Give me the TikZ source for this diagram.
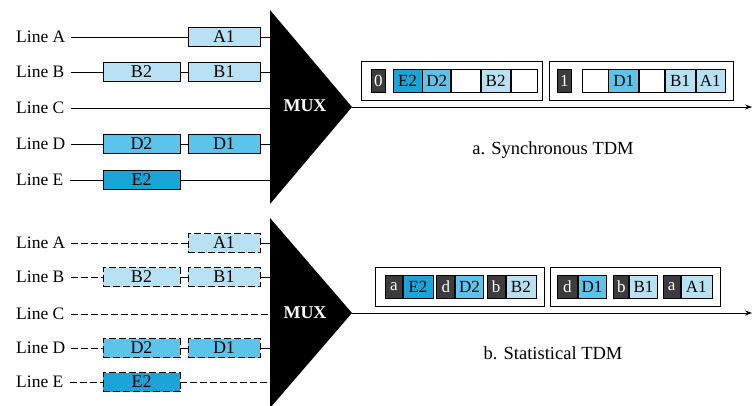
\documentclass[tikz,border=0pt]{standalone}
\usepackage{fontspec}
\setmainfont{Liberation Serif}
\usetikzlibrary{positioning,arrows.meta}
\definecolor{paleblue}{HTML}{B8E2F4}
\definecolor{midblue}{HTML}{5CC3EA}
\definecolor{deepblue}{HTML}{1BA4D8}
\definecolor{hdrgray}{HTML}{3C3C3C}
\tikzset{
  linelabel/.style={anchor=west, inner sep=0pt, font=\fontsize{17.5}{19}\selectfont},
  cell/.style={draw, line width=0.8pt, minimum height=19, minimum width=72,
    inner sep=0pt, font=\fontsize{18}{19}\selectfont},
  slot/.style={draw, line width=0.7pt, minimum height=23, inner sep=0pt,
    anchor=west, font=\fontsize{17}{18}\selectfont},
  hdr/.style={slot, fill=hdrgray, text=white},
  frame/.style={draw, line width=0.8pt},
  wire/.style={line width=0.7pt},
  dwire/.style={wire, dash pattern=on 7pt off 3pt},
  caption/.style={font=\fontsize{18.5}{20}\selectfont},
  muxtext/.style={text=white, font=\bfseries\fontsize{18}{19}\selectfont},
}

\begin{document}
\begin{tikzpicture}[x=1pt,y=-1pt]
  \useasboundingbox (0,0) rectangle (756,405);

  % ---- a. synchronous TDM ----
  \fill (270,10) -- (352,107) -- (270,204) -- cycle;
  \node[muxtext] (mux1) at (305,106) {MUX};
  \coordinate (ma) at (270,37);
  \coordinate (mb) at (270,72);
  \coordinate (mc) at (270,108);
  \coordinate (md) at (270,144);
  \coordinate (me) at (270,180);
  \coordinate (out1) at (352,107);
  \coordinate (end1) at (752,107);

  \node[linelabel] (la) at (16,37) {Line A};
  \node[linelabel] (lb) at (16,72) {Line B};
  \node[linelabel] (lc) at (16,108) {Line C};
  \node[linelabel] (ld) at (16,144) {Line D};
  \node[linelabel] (le) at (16,180) {Line E};

  \node[cell, fill=paleblue] (a1) at (224,37) {A1};
  \node[cell, fill=paleblue, minimum width=77] (b2) at (141.5,72) {B2};
  \node[cell, fill=paleblue] (b1) at (224,72) {B1};
  \node[cell, fill=midblue, minimum width=77] (d2) at (141.5,144) {D2};
  \node[cell, fill=midblue] (d1) at (224,144) {D1};
  \node[cell, fill=deepblue, minimum width=77] (e2) at (141.5,180) {E2};

  \draw[wire] (la.east) ++(6,0) -- (a1.west);
  \draw[wire] (a1.east) -- (ma);
  \draw[wire] (lb.east) ++(6,0) -- (b2.west);
  \draw[wire] (b2.east) -- (b1.west);
  \draw[wire] (b1.east) -- (mb);
  \draw[wire] (lc.east) ++(6,0) -- (mc);
  \draw[wire] (ld.east) ++(6,0) -- (d2.west);
  \draw[wire] (d2.east) -- (d1.west);
  \draw[wire] (d1.east) -- (md);
  \draw[wire] (le.east) ++(6,0) -- (e2.west);
  \draw[wire] (e2.east) -- (me);

  \draw[wire, -{Stealth[length=7pt,width=5pt]}] (out1) -- (end1);
  \draw[frame] (361,61) rectangle (542,100);
  \draw[frame] (549,61) rectangle (733,100);

  \node[hdr, minimum width=14] (s0) at (371,80.5) {0};
  \node[slot, fill=deepblue, minimum width=29, right=7 of s0] (se2) {E2};
  \node[slot, fill=midblue, minimum width=28, right=0 of se2] (sd2) {D2};
  \node[slot, minimum width=29, right=0 of sd2] (sx1) {};
  \node[slot, fill=paleblue, minimum width=29, right=0 of sx1] (sb2) {B2};
  \node[slot, minimum width=26, right=0 of sb2] (sx2) {};

  \node[hdr, minimum width=14] (s1) at (557,80.5) {1};
  \node[slot, minimum width=26, right=10 of s1] (sx3) {};
  \node[slot, fill=midblue, minimum width=30, right=0 of sx3] (sd1) {D1};
  \node[slot, minimum width=25, right=0 of sd1] (sx4) {};
  \node[slot, fill=paleblue, minimum width=30, right=0 of sx4] (sb1) {B1};
  \node[slot, fill=paleblue, minimum width=29, right=0 of sb1] (sa1) {A1};

  \node[caption] (cap1) at (553,150) {a. Synchronous TDM};

  % ---- b. statistical TDM ----
  \fill (270,218) -- (352,313) -- (270,408) -- cycle;
  \node[muxtext] (mux2) at (305,313) {MUX};
  \coordinate (na) at (270,243);
  \coordinate (nb) at (270,277);
  \coordinate (nc) at (270,314);
  \coordinate (nd) at (270,348);
  \coordinate (ne) at (270,382);
  \coordinate (out2) at (352,313);
  \coordinate (end2) at (752,313);

  \node[linelabel] (ka) at (16,243) {Line A};
  \node[linelabel] (kb) at (16,277) {Line B};
  \node[linelabel] (kc) at (16,314) {Line C};
  \node[linelabel] (kd) at (16,348) {Line D};
  \node[linelabel] (ke) at (16,382) {Line E};

  \node[cell, dwire, fill=paleblue] (ta1) at (224,243) {A1};
  \node[cell, dwire, fill=paleblue, minimum width=77] (tb2) at (141.5,277) {B2};
  \node[cell, dwire, fill=paleblue] (tb1) at (224,277) {B1};
  \node[cell, dwire, fill=midblue, minimum width=77] (td2) at (141.5,348) {D2};
  \node[cell, dwire, fill=midblue] (td1) at (224,348) {D1};
  \node[cell, dwire, fill=deepblue, minimum width=77] (te2) at (141.5,382) {E2};

  \draw[dwire] (ka.east) ++(6,0) -- (ta1.west);
  \draw[wire] (ta1.east) -- (na);
  \draw[dwire] (kb.east) ++(6,0) -- (tb2.west);
  \draw[wire] (tb2.east) -- (tb1.west);
  \draw[wire] (tb1.east) -- (nb);
  \draw[dwire] (kc.east) ++(6,0) -- (nc);
  \draw[dwire] (kd.east) ++(6,0) -- (td2.west);
  \draw[wire] (td2.east) -- (td1.west);
  \draw[wire] (td1.east) -- (nd);
  \draw[dwire] (ke.east) ++(6,0) -- (te2.west);
  \draw[dwire] (te2.east) -- (ne);

  \draw[wire, -{Stealth[length=7pt,width=5pt]}] (out2) -- (end2);
  \draw[frame] (375,267) rectangle (544,306);
  \draw[frame] (550,267) rectangle (720,306);

  \node[hdr, minimum width=17] (ra) at (385,286.5) {a};
  \node[slot, fill=deepblue, minimum width=30, right=0 of ra] (re2) {E2};
  \node[hdr, minimum width=18, right=3 of re2] (rd) {d};
  \node[slot, fill=midblue, minimum width=28, right=0 of rd] (rd2) {D2};
  \node[hdr, minimum width=18, right=3 of rd2] (rb) {b};
  \node[slot, fill=paleblue, minimum width=30, right=0 of rb] (rb2) {B2};

  \node[hdr, minimum width=20] (qd) at (557,286.5) {d};
  \node[slot, fill=midblue, minimum width=28, right=0 of qd] (qd1) {D1};
  \node[hdr, minimum width=15, right=7 of qd1] (qb) {b};
  \node[slot, fill=paleblue, minimum width=28, right=0 of qb] (qb1) {B1};
  \node[hdr, minimum width=17, right=5 of qb1] (qa) {a};
  \node[slot, fill=paleblue, minimum width=31, right=0 of qa] (qa1) {A1};

  \node[caption] (cap2) at (553,353) {b. Statistical TDM};
\end{tikzpicture}
\end{document}
